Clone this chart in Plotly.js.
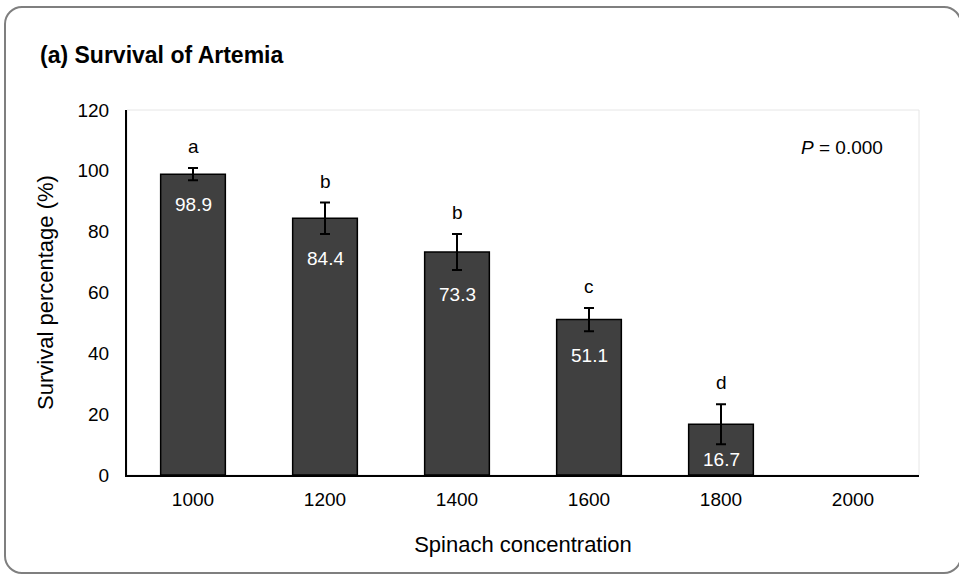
<!DOCTYPE html>
<html>
<head>
<meta charset="utf-8">
<script src="https://cdn.plot.ly/plotly-3.0.1.min.js"></script>
<style>
  html, body { margin: 0; padding: 0; background: #fff; }
  #wrap { position: relative; width: 959px; height: 576px; overflow: hidden; }
  #chart { width: 959px; height: 576px; }
  #frame { position: absolute; left: 4px; top: 6px; width: 958px; height: 568px;
           border: 2px solid #7f7f7f; border-radius: 18px; pointer-events: none; box-sizing: border-box; }
</style>
</head>
<body>
<div id="wrap">
  <div id="chart"></div>
  <div id="frame"></div>
</div>
<script>
const categories = ['1000', '1200', '1400', '1600', '1800', '2000'];
const survival = [98.9, 84.4, 73.3, 51.1, 16.7, 0];
const errors = [2.0, 5.2, 5.9, 3.8, 6.6, 0];
const letters = ['a', 'b', 'b', 'c', 'd', ''];
const valueLabels = ['98.9', '84.4', '73.3', '51.1', '16.7', ''];

const font = 'Liberation Sans, Arial, sans-serif';

const trace = {
  type: 'bar',
  x: categories,
  y: survival,
  width: 0.49,
  marker: {
    color: '#404040',
    line: { color: '#000000', width: survival.map(v => (v > 0 ? 1.5 : 0)) }
  },
  error_y: {
    type: 'data', array: errors.map(e => (e > 0 ? e : NaN)), visible: true,
    color: '#000000', thickness: 2, width: 5
  },
  hoverinfo: 'none'
};

const annotations = [];
categories.forEach((c, i) => {
  if (letters[i]) {
    annotations.push({
      x: i, y: survival[i] + errors[i] + 7, xref: 'x', yref: 'y',
      text: letters[i], showarrow: false, yanchor: 'middle',
      font: { family: font, size: 19, color: '#000000' }
    });
  }
  if (valueLabels[i]) {
    annotations.push({
      x: i, y: Math.max(survival[i] - errors[i] - 8, 5), xref: 'x', yref: 'y',
      text: valueLabels[i], showarrow: false, yanchor: 'middle',
      font: { family: font, size: 19, color: '#ffffff' }
    });
  }
});
annotations.push({
  x: (885 - 127) / (959 - 127 - 40), y: (475 - 147) / (475 - 110),
  xref: 'paper', yref: 'paper', xanchor: 'right', yanchor: 'middle',
  text: '<i>P</i> = 0.000', showarrow: false,
  font: { family: font, size: 19, color: '#000000' }
});

const layout = {
  width: 959, height: 576,
  margin: { l: 127, r: 40, t: 110, b: 101 },
  paper_bgcolor: '#ffffff', plot_bgcolor: '#ffffff',
  showlegend: false,
  title: {
    text: '<b>(a) Survival of Artemia</b>',
    x: 40 / 959, xref: 'container', xanchor: 'left',
    y: 1 - 55 / 576, yref: 'container', yanchor: 'middle',
    font: { family: font, size: 23, color: '#000000' }
  },
  xaxis: {
    type: 'category', range: [-0.5, 5.5], fixedrange: true,
    showline: true, linecolor: '#000000', linewidth: 2,
    showgrid: false, zeroline: false, ticks: '',
    ticklabelstandoff: 6,
    tickfont: { family: font, size: 19, color: '#000000' },
    title: { text: 'Spinach concentration', standoff: 28, font: { family: font, size: 22, color: '#000000' } }
  },
  yaxis: {
    range: [0, 120], dtick: 20, tick0: 0,
    showline: true, linecolor: '#000000', linewidth: 2,
    showgrid: false, zeroline: false, ticks: '',
    ticklabelstandoff: 12,
    tickfont: { family: font, size: 19, color: '#000000' },
    title: { text: 'Survival percentage (%)', standoff: 18, font: { family: font, size: 22, color: '#000000' } }
  },
  shapes: [
    { type: 'rect', xref: 'paper', yref: 'paper', x0: 0, x1: 1, y0: 0, y1: 1,
      line: { color: '#e6e6e6', width: 1 }, fillcolor: 'rgba(0,0,0,0)', layer: 'below' }
  ],
  annotations: annotations
};

Plotly.newPlot('chart', [trace], layout, { displayModeBar: false, staticPlot: true });
</script>
</body>
</html>
